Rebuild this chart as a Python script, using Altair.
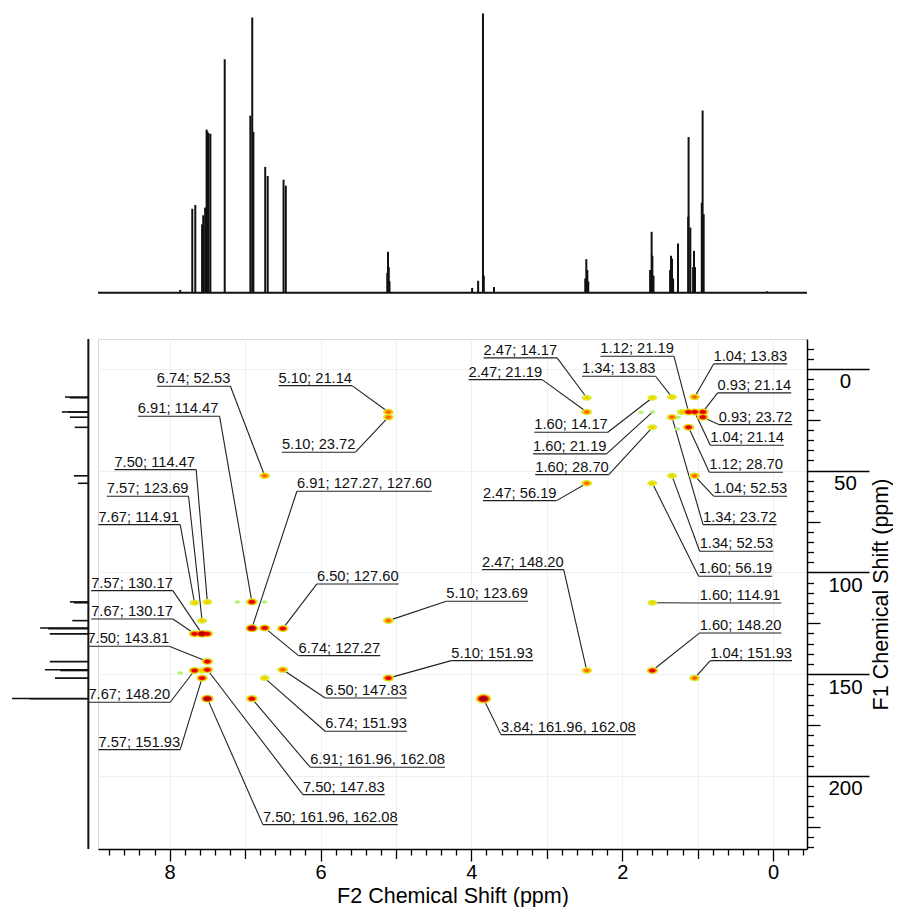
import altair as alt
import pandas as pd

# ---------------- data ----------------
# 1H projection (top): peak positions (ppm) and heights (% of tallest)
H_PPM = [7.86, 7.70, 7.66, 7.57, 7.555, 7.53, 7.51, 7.50, 7.485, 7.46, 7.27, 6.93, 6.905, 6.89,
         6.733, 6.70, 6.49, 6.46, 5.115, 5.105, 5.095, 5.085, 3.99, 3.91, 3.846, 3.835, 3.70,
         2.49, 2.476, 2.462, 2.45, 1.63, 1.61, 1.60, 1.585, 1.365, 1.353, 1.34, 1.325, 1.26,
         1.125, 1.12, 1.097, 1.06, 1.048, 1.035, 0.945, 0.934, 0.92, 0.08]
H_INT = [1, 29.5, 30.8, 24, 27.2, 29.9, 57.3, 56.7, 56.1, 55.8, 82, 62.2, 96.7, 56.5,
         44.2, 41, 39.7, 37.6, 7, 14.4, 9, 4, 1.7, 4.2, 98.1, 6, 2,
         5, 11.8, 8, 4, 8, 21.4, 13, 6, 8, 13, 12, 5, 17.3,
         26.7, 54.7, 22.9, 9, 14.7, 9, 31.6, 64, 27.6, 0.5]

# 13C projection (left): peak positions (ppm) and heights
C_PPM = [13.83, 14.17, 21.14, 21.19, 23.72, 28.70, 52.53, 56.19, 114.47, 114.91, 123.69,
         127.27, 127.60, 130.17, 143.81, 147.83, 148.20, 151.93, 161.96, 162.08]
C_INT = [29, 23, 33, 25, 23, 17, 18, 13, 23, 18, 20,
         60, 50, 48, 48, 54, 35, 41.5, 95, 73]

# HMBC cross peaks: F2 (1H), F1 (13C), intensity class
PK_F2 = [6.74, 5.10, 5.10, 6.91, 6.74, 7.50, 7.57, 7.67, 6.91, 7.57, 7.50, 7.67, 7.50, 7.67,
         7.57, 7.50, 7.57, 7.50, 6.50, 6.74, 6.50, 6.74, 6.91, 5.10, 5.10, 2.47, 2.47, 2.47,
         1.60, 1.60, 1.60, 1.60, 1.34, 1.34, 1.34, 1.21, 1.12, 1.12, 1.04, 1.04, 1.04, 0.93,
         0.93, 2.47, 1.60, 1.60, 1.04, 3.84, 1.75, 1.27, 1.26, 7.10, 7.86]
PK_F1 = [52.53, 21.14, 23.72, 114.47, 114.47, 114.47, 123.69, 114.91, 127.4, 130.17, 130.17,
         130.17, 143.81, 148.20, 148.20, 147.83, 151.93, 162.02, 127.60, 127.27, 147.83, 151.93,
         162.02, 123.69, 151.93, 14.17, 21.19, 56.19, 14.17, 21.19, 28.70, 56.19, 13.83, 23.72,
         52.53, 21.19, 21.19, 28.70, 13.83, 21.14, 52.53, 21.14, 23.72, 148.20, 114.91, 148.20,
         151.93, 162.02, 21.3, 29.5, 23.7, 114.5, 149.4]
PK_LEVEL = [2, 2, 2, 3, 0, 1, 1, 1, 4, 4, 3, 3, 3, 3,
            1, 3, 3, 4, 3, 3, 2, 1, 3, 2, 3, 1, 2, 2,
            1, 0, 1, 1, 1, 2, 1, 1, 3, 3, 2, 3, 2, 3,
            3, 2, 1, 3, 2, 5, 0, 0, 0, 0, 0]

# Annotations: text, underline start (F2 ppm of the text's left end), underline F1, leader side
LAB_TEXT = ["6.74; 52.53", "5.10; 21.14", "5.10; 23.72", "6.91; 114.47", "7.50; 114.47",
            "7.57; 123.69", "7.67; 114.91", "6.91; 127.27, 127.60", "7.57; 130.17",
            "7.67; 130.17", "7.50; 143.81", "7.67; 148.20", "7.57; 151.93", "6.50; 127.60",
            "6.74; 127.27", "6.50; 147.83", "6.74; 151.93", "6.91; 161.96, 162.08",
            "7.50; 147.83", "7.50; 161.96, 162.08", "2.47; 14.17", "2.47; 21.19", "1.34; 13.83",
            "1.12; 21.19", "1.04; 13.83", "0.93; 21.14", "0.93; 23.72", "1.60; 14.17",
            "1.60; 21.19", "1.60; 28.70", "1.04; 21.14", "1.12; 28.70", "1.04; 52.53",
            "1.34; 23.72", "1.34; 52.53", "1.60; 56.19", "2.47; 56.19", "2.47; 148.20",
            "1.60; 114.91", "1.60; 148.20", "1.04; 151.93", "5.10; 123.69", "5.10; 151.93",
            "3.84; 161.96, 162.08"]
LAB_X = [8.170, 6.557, 6.512, 8.422, 8.732, 8.833, 8.944, 6.313, 9.041, 9.041, 9.090, 9.077,
         8.944, 6.048, 6.292, 5.938, 5.938, 6.137, 6.233, 6.764, 3.838, 4.037, 2.533, 2.290,
         0.788, 0.735, 0.721, 3.166, 3.183, 3.153, 0.832, 0.845, 0.788, 0.928, 0.973, 0.987,
         3.846, 3.859, 0.973, 0.973, 0.832, 4.333, 4.267, 3.607]
LAB_Y = [8.50, 8.21, 40.93, 23.24, 49.48, 62.55, 76.5, 60.1, 108.94, 122.85, 136.27, 163.78,
         187.08, 105.65, 140.88, 161.67, 178.03, 195.72, 209.19, 223.93, -5.41, 5.26, 3.59,
         -6.24, -2.46, 11.79, 27.37, 31.11, 41.77, 51.94, 37.49, 50.76, 62.55, 76.5, 89.58,
         101.87, 64.72, 98.62, 114.99, 129.73, 143.34, 114.15, 143.34, 179.7]
LAB_SIDE = ['R', 'R', 'R', 'R', 'R', 'R', 'R', 'L', 'R', 'R', 'R', 'R', 'R', 'L', 'L', 'L',
            'L', 'L', 'L', 'L', 'R', 'R', 'R', 'R', 'L', 'L', 'L', 'R', 'R', 'R', 'L', 'L',
            'L', 'L', 'L', 'L', 'R', 'R', 'L', 'L', 'L', 'L', 'L', 'L']

X_TICKS = [round(-0.4 + 0.2 * i, 1) for i in range(47)]
Y_TICKS = [-10 + 5 * i for i in range(50)]

# ---------------- layout ----------------
X_MIN, X_MAX = -0.45, 8.95
Y_MIN, Y_MAX = -14.7, 235.9
W_MAIN, H_MAIN = 709, 510
LEFT_W, TOP_H, GAP = 90, 299, 32
PXPP = W_MAIN / (X_MAX - X_MIN)
FONT = "Liberation Sans"
LAB_FS = 14.7

assert len(H_PPM) == len(H_INT)
assert len(PK_F2) == len(PK_F1) == len(PK_LEVEL)
assert len(LAB_TEXT) == len(LAB_X) == len(LAB_Y) == len(LAB_SIDE)


def text_px(s):
    return sum(0.556 if ch.isdigit() else 0.278 for ch in s) * LAB_FS


# ---------------- frames ----------------
top_df = pd.DataFrame({"x": H_PPM, "h": H_INT, "z": 0.0})
top_base = pd.DataFrame({"x": [X_MAX], "x2": [X_MIN], "z": [0.0]})
left_df = pd.DataFrame({"c": C_PPM, "h": C_INT, "z": 0.0})
left_base = pd.DataFrame({"z": [0.0], "y": [Y_MIN], "y2": [Y_MAX]})

RINGS = {
    0: (34, [(1.0, "#b8f07c")]),
    1: (100, [(1.0, "#c6ef5a"), (0.6, "#f2ea00"), (0.2, "#f7c600")]),
    2: (120, [(1.0, "#c6ef5a"), (0.7, "#f2e400"), (0.4, "#ff9c00"), (0.15, "#ff5a00")]),
    3: (140, [(1.0, "#c6ef5a"), (0.75, "#f5dc00"), (0.5, "#ff7800"), (0.28, "#e60000")]),
    4: (170, [(1.0, "#c6ef5a"), (0.8, "#f5d800"), (0.6, "#ff6a00"), (0.4, "#e00000"), (0.2, "#a80000")]),
    5: (250, [(1.0, "#c6ef5a"), (0.8, "#f5d800"), (0.6, "#ff6a00"), (0.4, "#e00000"), (0.2, "#a00000")]),
}
rows = []
for f2, f1, lv in zip(PK_F2, PK_F1, PK_LEVEL):
    base, rings = RINGS[lv]
    for r, (frac, col) in enumerate(rings):
        rows.append({"x": f2, "y": f1, "ring": r, "sz": base * frac, "col": col})
pk_df = pd.DataFrame(rows).sort_values("ring", kind="stable").reset_index(drop=True)

lab_rows = []
for t, lx, ly, side in zip(LAB_TEXT, LAB_X, LAB_Y, LAB_SIDE):
    f2s, f1s = t.split(";")
    f1v = [float(v) for v in f1s.split(",")]
    px, py = float(f2s), sum(f1v) / len(f1v)
    rx = lx - text_px(t) / PXPP
    ax = lx if side == "L" else rx
    lab_rows.append({"text": t, "px": px, "py": py, "ux1": lx, "ux2": rx, "uy": ly, "ax": ax})
lab_df = pd.DataFrame(lab_rows)

# ---------------- scales / axes ----------------
xs = alt.Scale(domain=[X_MIN, X_MAX], reverse=True, nice=False, zero=False)
ys = alt.Scale(domain=[Y_MIN, Y_MAX], reverse=True, nice=False, zero=False)

is_even = "abs(datum.value/2 - round(datum.value/2)) < 0.01"
is_int = "abs(datum.value - round(datum.value)) < 0.01"
is_50 = "abs(datum.value/50 - round(datum.value/50)) < 0.01"
is_25 = "abs(datum.value/25 - round(datum.value/25)) < 0.01"

x_axis = alt.Axis(
    orient="bottom", values=X_TICKS, title="F2 Chemical Shift (ppm)",
    tickSize={"condition": [{"test": is_even, "value": 12}, {"test": is_int, "value": 9.5}], "value": 6},
    labelExpr=f"({is_even}) ? '' + round(datum.value) : ''",
    labelOverlap=False, labelFlush=False, labelPadding=1, labelFontSize=20,
    titleFontSize=21.5, titlePadding=3,
    grid=True, gridColor="#f0f0f0",
    gridOpacity={"condition": {"test": is_int, "value": 1}, "value": 0},
)
y_axis = alt.Axis(
    orient="right", values=Y_TICKS, title="F1 Chemical Shift (ppm)",
    tickSize={"condition": [{"test": is_50, "value": 62}, {"test": is_25, "value": 13}], "value": 6.5},
    labelExpr=f"({is_50}) ? '' + round(datum.value) : ''",
    labelOverlap=False, labelFlush=False, labelAlign="center", labelBaseline="top",
    labelPadding=-24, labelOffset=3, labelFontSize=20.5,
    titleFontSize=21.5, titleAngle=270, titleBaseline="top", titlePadding=1,
    grid=True, gridColor="#f0f0f0",
    gridOpacity={"condition": {"test": is_50, "value": 1}, "value": 0},
)

# ---------------- main 2D panel ----------------
# every layer carries the identical axis definition so that they merge cleanly
X_ENC = dict(scale=xs, axis=x_axis)
Y_ENC = dict(scale=ys, axis=y_axis)

leaders = alt.Chart(lab_df).mark_rule(color="#222222", strokeWidth=1.1).encode(
    x=alt.X("px:Q", **X_ENC), y=alt.Y("py:Q", **Y_ENC),
    x2="ax:Q", y2="uy:Q",
)
underlines = alt.Chart(lab_df).mark_rule(color="#222222", strokeWidth=1.1).encode(
    x=alt.X("ux1:Q", **X_ENC), x2="ux2:Q",
    y=alt.Y("uy:Q", **Y_ENC),
)
texts = alt.Chart(lab_df).mark_text(
    align="left", baseline="alphabetic", dy=-3, font=FONT, fontSize=LAB_FS, color="#111111"
).encode(
    x=alt.X("ux1:Q", **X_ENC), y=alt.Y("uy:Q", **Y_ENC),
    text="text:N",
)
ELLIPSE = "M-1,0A1,0.6,0,1,1,1,0A1,0.6,0,1,1,-1,0Z"
peaks = alt.Chart(pk_df).mark_point(shape=ELLIPSE, filled=True, opacity=1, strokeWidth=0).encode(
    x=alt.X("x:Q", **X_ENC), y=alt.Y("y:Q", **Y_ENC),
    size=alt.Size("sz:Q", scale=None),
    color=alt.Color("col:N", scale=None),
    order=alt.Order("ring:Q"),
)
main = alt.layer(leaders, underlines, texts, peaks).properties(
    width=W_MAIN, height=H_MAIN, view=alt.ViewBackground(stroke="#d9d9d9", strokeWidth=1)
)

# ---------------- left 13C projection ----------------
lxs = alt.Scale(domain=[-12, 100], reverse=True, nice=False, zero=False)
left_lines = alt.Chart(left_df).mark_rule(color="#111111", strokeWidth=1.6).encode(
    y=alt.Y("c:Q", scale=ys, axis=None),
    x=alt.X("z:Q", scale=lxs, axis=None), x2="h:Q",
)
left_bl = alt.Chart(left_base).mark_rule(color="#111111", strokeWidth=2).encode(
    x=alt.X("z:Q", scale=lxs, axis=None),
    y=alt.Y("y:Q", scale=ys, axis=None), y2="y2:Q",
)
left = alt.layer(left_bl, left_lines).properties(width=LEFT_W, height=H_MAIN)

# ---------------- top 1H projection ----------------
txs = alt.Scale(domain=[X_MIN, X_MAX + LEFT_W / PXPP], reverse=True, nice=False, zero=False)
tys = alt.Scale(domain=[-5, 100], nice=False, zero=False)
top_lines = alt.Chart(top_df).mark_rule(color="#111111", strokeWidth=2).encode(
    x=alt.X("x:Q", scale=txs, axis=None),
    y=alt.Y("z:Q", scale=tys, axis=None), y2="h:Q",
)
top_bl = alt.Chart(top_base).mark_rule(color="#111111", strokeWidth=2).encode(
    x=alt.X("x:Q", scale=txs, axis=None), x2="x2:Q",
    y=alt.Y("z:Q", scale=tys, axis=None),
)
top = alt.layer(top_bl, top_lines).properties(width=LEFT_W + W_MAIN, height=TOP_H)

bottom = alt.hconcat(left, main, spacing=0, bounds="flush").resolve_scale(x="independent", y="independent")
chart = alt.vconcat(top, bottom, spacing=GAP, bounds="flush").resolve_scale(
    x="independent", y="independent"
).properties(padding=0).configure_view(stroke=None).configure_axis(
    labelFont=FONT, titleFont=FONT, labelColor="#000000", titleColor="#000000",
    titleFontWeight="normal", domainColor="#000000", domainWidth=1.5,
    tickColor="#000000", tickWidth=1.3,
)

chart.save("out.html", embed_options={"renderer": "svg", "actions": False})
